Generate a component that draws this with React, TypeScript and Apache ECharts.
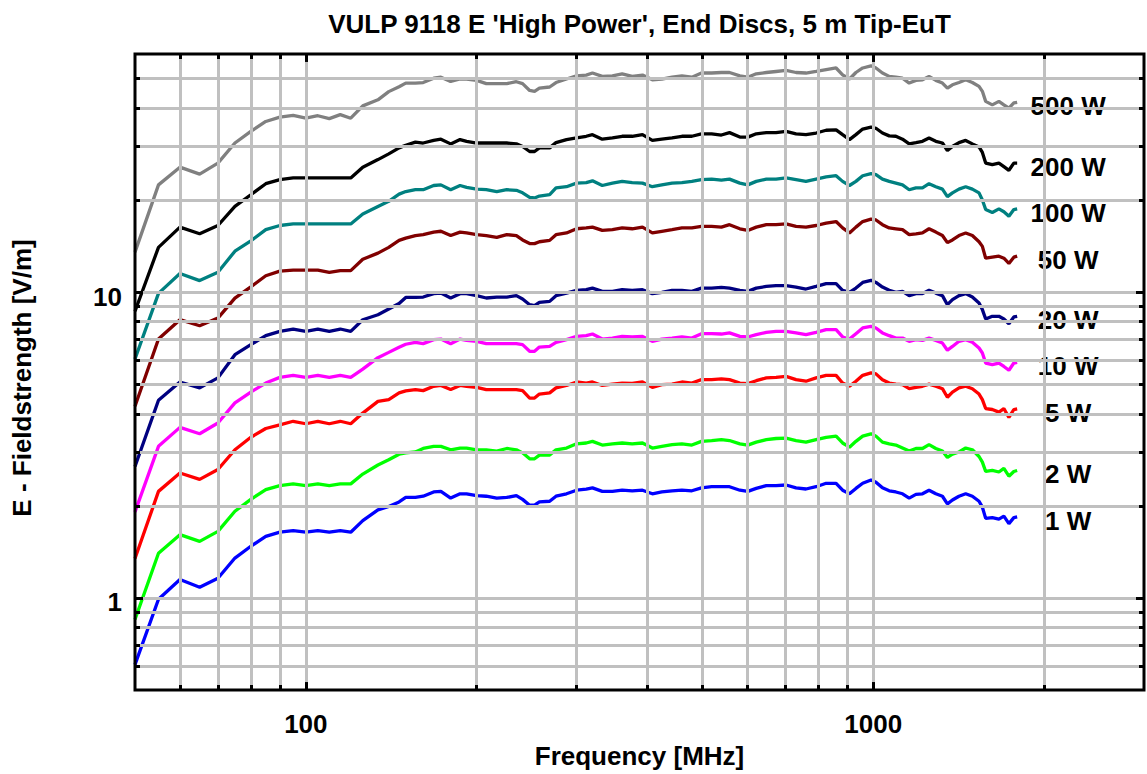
import React, { useEffect, useRef } from 'react';
import * as echarts from 'echarts';

// ---------- data ----------
const freqMHz = [
  50, 55, 60, 65, 70, 75, 80, 85, 90, 95, 100, 105, 110, 115, 120, 126, 134, 140, 146, 150, 156,
  161, 168, 173, 180, 187, 192, 200, 208, 217, 226, 235, 241, 248, 253, 258, 269, 276, 288, 300, 312,
  320, 333, 347, 361, 376, 392, 408, 424, 442, 460, 479, 498, 519, 540,
  558, 582, 601, 622, 648, 674, 702, 731, 761, 793, 826, 860, 883, 908, 932, 958, 991, 1011, 1038, 1067,
  1096, 1126, 1157, 1189, 1221, 1254, 1289, 1324, 1351, 1379, 1416, 1455, 1495, 1536, 1557, 1578, 1621,
  1665, 1699, 1734, 1769, 1793,
];

const e500W = [
  13.5, 22.4, 25.6, 24.3, 26.4, 30.7, 33.5, 36.1, 37.3, 37.8, 37.0, 37.7, 36.9, 38.0, 37.0, 40.6, 42.5, 45.2, 46.9, 48.2, 48.2,
  48.4, 50.0, 50.4, 48.8, 49.7, 49.7, 49.2, 48.0, 48.0, 48.0, 48.7, 48.0, 45.6, 45.3, 46.4, 46.8, 48.4, 49.7, 50.9, 51.2,
  52.0, 50.7, 50.9, 51.7, 50.7, 51.2, 49.4, 49.7, 50.4, 50.9, 50.4, 52.0, 52.0, 52.2,
  52.2, 50.9, 50.4, 51.7, 52.2, 52.6, 53.0, 52.2, 52.0, 52.6, 53.3, 54.0, 51.3, 49.7, 52.2, 54.0, 54.9, 54.0, 52.0, 50.7,
  50.4, 50.0, 48.2, 49.2, 49.4, 50.7, 49.2, 48.2, 46.4, 47.6, 48.4, 49.4, 48.4, 47.0, 45.3, 42.0, 40.9, 42.0, 40.9, 39.9,
  41.5, 41.7,
];
const e200W = [
  8.65, 14.0, 16.3, 15.5, 16.5, 19.05, 20.8, 22.6, 23.3, 23.6, 23.6, 23.6, 23.6, 23.6, 23.6, 25.6, 27.1, 28.3, 29.6, 30.2, 30.9,
  30.7, 31.3, 31.6, 30.5, 31.5, 31.1, 30.7, 30.7, 30.7, 30.7, 30.5, 29.9, 28.8, 28.8, 29.6, 29.6, 30.8, 31.5, 31.9, 32.3,
  32.7, 31.6, 31.9, 32.3, 32.3, 32.7, 31.3, 31.6, 31.9, 32.3, 32.3, 32.9, 32.9, 32.6,
  33.2, 32.1, 32.1, 32.9, 33.2, 33.2, 33.5, 32.9, 32.7, 33.1, 33.8, 33.9, 32.7, 31.5, 32.7, 34.1, 34.6, 34.3, 33.1, 32.4,
  32.3, 31.6, 30.5, 30.8, 31.1, 31.9, 31.1, 30.7, 29.0, 29.9, 30.8, 31.3, 30.5, 29.8, 28.6, 26.4, 26.1, 26.4, 25.7, 25.0,
  26.4, 26.4,
];
const e100W = [
  6.04, 9.9, 11.5, 10.9, 11.6, 13.6, 14.7, 16.0, 16.5, 16.7, 16.7, 16.7, 16.7, 16.7, 16.7, 18.0, 19.05, 19.8, 20.9, 21.3, 21.6,
  21.6, 22.3, 22.4, 21.6, 22.3, 22.0, 21.7, 21.6, 21.3, 21.6, 21.5, 21.1, 20.4, 20.3, 20.6, 20.8, 21.9, 22.1, 22.7, 22.8,
  23.1, 22.3, 22.7, 23.0, 22.8, 22.7, 22.1, 22.4, 22.7, 22.8, 23.0, 23.3, 23.4, 23.2,
  23.4, 22.7, 22.4, 23.0, 23.4, 23.4, 23.6, 23.3, 23.0, 23.4, 23.8, 24.0, 23.0, 22.3, 23.0, 24.0, 24.4, 24.2, 23.4, 23.0,
  22.7, 22.4, 21.6, 21.9, 21.9, 22.6, 22.1, 21.7, 20.5, 21.1, 21.7, 22.1, 21.7, 21.1, 20.0, 18.6, 18.2, 18.7, 18.3, 17.7,
  18.6, 18.7,
];
const e50W = [
  4.23, 7.02, 8.12, 7.76, 8.22, 9.55, 10.4, 11.3, 11.7, 11.8, 11.8, 11.8, 11.6, 11.75, 11.75, 12.8, 13.4, 14.0, 14.75, 15.0, 15.3,
  15.4, 15.7, 15.8, 15.3, 15.7, 15.6, 15.4, 15.3, 15.1, 15.4, 15.3, 14.8, 14.4, 14.4, 14.6, 14.75, 15.4, 15.6, 16.1, 16.2,
  16.3, 15.9, 16.0, 16.2, 16.1, 16.3, 15.6, 15.8, 16.0, 16.2, 16.2, 16.4, 16.4, 16.3,
  16.6, 16.1, 15.9, 16.3, 16.6, 16.6, 16.7, 16.4, 16.3, 16.5, 16.8, 17.0, 16.2, 15.6, 16.3, 17.0, 17.3, 17.2, 16.6, 16.2,
  16.1, 16.0, 15.4, 15.5, 15.6, 16.1, 15.7, 15.3, 14.5, 14.8, 15.3, 15.6, 15.3, 14.6, 14.1, 12.9, 13.0, 13.1, 12.9, 12.4,
  13.0, 13.1,
];
const e20W = [
  2.69, 4.43, 5.08, 4.86, 5.24, 6.24, 6.73, 7.2, 7.44, 7.57, 7.44, 7.57, 7.44, 7.57, 7.44, 8.12, 8.43, 8.8, 9.17, 9.6, 9.6,
  9.63, 9.88, 9.92, 9.56, 9.88, 9.88, 9.73, 9.56, 9.63, 9.63, 9.73, 9.49, 9.09, 9.02, 9.25, 9.32, 9.73, 9.92, 10.13, 10.18,
  10.3, 10.05, 10.05, 10.18, 10.13, 10.18, 9.88, 9.98, 10.13, 10.13, 10.05, 10.3, 10.3, 10.36,
  10.3, 10.13, 10.05, 10.3, 10.43, 10.49, 10.49, 10.38, 10.23, 10.43, 10.65, 10.65, 10.13, 9.97, 10.3, 10.75, 10.92, 10.75, 10.38, 10.13,
  9.97, 10.05, 9.73, 9.88, 9.88, 10.13, 9.92, 9.73, 9.09, 9.44, 9.73, 9.88, 9.63, 9.21, 8.76, 8.16, 8.33, 8.33, 8.16, 7.88,
  8.29, 8.33,
];
const e10W = [
  1.91, 3.13, 3.61, 3.44, 3.73, 4.34, 4.71, 5.04, 5.26, 5.34, 5.26, 5.34, 5.26, 5.34, 5.26, 5.6, 6.1, 6.35, 6.6, 6.75, 6.85,
  6.78, 6.99, 7.02, 6.78, 7.02, 6.95, 6.9, 6.78, 6.78, 6.78, 6.78, 6.73, 6.4, 6.4, 6.61, 6.64, 6.85, 6.99, 7.16, 7.2,
  7.29, 7.02, 7.07, 7.16, 7.13, 7.16, 6.9, 7.02, 7.07, 7.13, 7.07, 7.31, 7.31, 7.29,
  7.35, 7.16, 7.13, 7.26, 7.38, 7.44, 7.44, 7.35, 7.26, 7.38, 7.53, 7.53, 7.13, 7.02, 7.31, 7.63, 7.72, 7.63, 7.35, 7.2,
  7.07, 7.07, 6.9, 6.99, 6.95, 7.07, 6.95, 6.81, 6.45, 6.64, 6.9, 6.99, 6.85, 6.56, 6.32, 5.86, 5.79, 5.86, 5.71, 5.55,
  5.86, 5.89,
];
const e5W = [
  1.345, 2.23, 2.56, 2.44, 2.63, 3.05, 3.35, 3.58, 3.68, 3.78, 3.71, 3.78, 3.71, 3.78, 3.71, 4.02, 4.39, 4.45, 4.68, 4.75, 4.8,
  4.76, 4.92, 4.95, 4.8, 4.95, 4.92, 4.88, 4.8, 4.8, 4.8, 4.8, 4.76, 4.5, 4.5, 4.64, 4.68, 4.86, 4.95, 5.08, 5.04,
  5.08, 4.95, 5.0, 5.04, 5.03, 5.08, 4.88, 4.98, 5.0, 5.08, 5.04, 5.17, 5.17, 5.2,
  5.17, 5.04, 5.02, 5.13, 5.24, 5.26, 5.3, 5.17, 5.11, 5.24, 5.34, 5.34, 5.04, 4.92, 5.11, 5.34, 5.44, 5.4, 5.17, 5.04,
  5.0, 4.98, 4.83, 4.88, 4.92, 5.0, 4.92, 4.83, 4.53, 4.71, 4.86, 4.92, 4.83, 4.64, 4.45, 4.16, 4.13, 4.05, 4.16, 3.89,
  4.13, 4.15,
];
const e2W = [
  0.85, 1.4, 1.61, 1.53, 1.65, 1.92, 2.1, 2.26, 2.33, 2.36, 2.33, 2.36, 2.33, 2.36, 2.36, 2.54, 2.72, 2.83, 2.95, 2.98, 3.0,
  3.08, 3.13, 3.13, 3.05, 3.09, 3.09, 3.05, 3.05, 3.02, 3.08, 3.05, 2.98, 2.85, 2.85, 2.93, 2.93, 3.05, 3.09, 3.19, 3.21,
  3.25, 3.16, 3.19, 3.21, 3.19, 3.21, 3.09, 3.13, 3.17, 3.19, 3.16, 3.25, 3.27, 3.29,
  3.27, 3.19, 3.16, 3.23, 3.29, 3.32, 3.33, 3.27, 3.23, 3.29, 3.35, 3.38, 3.21, 3.11, 3.25, 3.38, 3.44, 3.38, 3.23, 3.19,
  3.16, 3.09, 3.02, 3.08, 3.08, 3.17, 3.08, 3.02, 2.88, 2.95, 3.0, 3.09, 3.05, 2.9, 2.78, 2.59, 2.61, 2.58, 2.65, 2.5,
  2.59, 2.61,
];
const e1W = [
  0.605, 0.99, 1.148, 1.084, 1.16, 1.35, 1.475, 1.59, 1.64, 1.66, 1.64, 1.66, 1.64, 1.66, 1.64, 1.79, 1.94, 1.99, 2.06, 2.13, 2.13,
  2.15, 2.22, 2.23, 2.12, 2.19, 2.19, 2.16, 2.15, 2.12, 2.13, 2.16, 2.1, 2.01, 2.01, 2.06, 2.07, 2.15, 2.19, 2.25, 2.27,
  2.29, 2.23, 2.23, 2.25, 2.24, 2.25, 2.19, 2.22, 2.24, 2.25, 2.24, 2.29, 2.31, 2.31,
  2.31, 2.25, 2.23, 2.28, 2.33, 2.33, 2.34, 2.29, 2.27, 2.31, 2.37, 2.37, 2.25, 2.19, 2.28, 2.37, 2.43, 2.39, 2.29, 2.24,
  2.22, 2.19, 2.12, 2.18, 2.19, 2.25, 2.19, 2.15, 2.03, 2.09, 2.15, 2.19, 2.15, 2.07, 1.98, 1.82, 1.83, 1.81, 1.85, 1.75,
  1.83, 1.84,
];

const seriesNames = ['500 W', '200 W', '100 W', '50 W', '20 W', '10 W', '5 W', '2 W', '1 W'];
const seriesValues = [e500W, e200W, e100W, e50W, e20W, e10W, e5W, e2W, e1W];
const seriesColors = ['#808080', '#000000', '#008080', '#800000', '#000080', '#ff00ff', '#ff0000', '#00ff00', '#0000ff'];

const xMin = 50;
const xMax = 3000;
const yMin = 0.5;
const yMax = 60;
const xTickLabels = [100, 1000];
const yTickLabels = [1, 10];
const xGridValues = [60, 70, 80, 90, 100, 200, 300, 400, 500, 600, 700, 800, 900, 1000, 2000];
const yGridValues = [0.6, 0.7, 0.8, 0.9, 1, 2, 3, 4, 5, 6, 7, 8, 9, 10, 20, 30, 40, 50];

const titleText = "VULP 9118 E 'High Power', End Discs, 5 m Tip-EuT";
const xName = 'Frequency [MHz]';
const yName = 'E - Fieldstrength [V/m]';

// ---------- layout ----------
const W = 1147;
const H = 774;
const GRID = { left: 135, right: 3, top: 54, bottom: 81 };
const FONT = '"Liberation Sans", Arial, Helvetica, sans-serif';

export default function App() {
  const ref = useRef<HTMLDivElement>(null);

  useEffect(() => {
    if (!ref.current) return;
    const chart = echarts.init(ref.current, undefined, { renderer: 'svg' });

    const plotW = W - GRID.left - GRID.right;
    const plotH = H - GRID.top - GRID.bottom;
    const pxPerDecX = plotW / Math.log10(xMax / xMin);
    const pxPerDecY = plotH / Math.log10(yMax / yMin);
    const fx = (px: number) => Math.pow(10, px / pxPerDecX);
    const fy = (px: number) => Math.pow(10, px / pxPerDecY);

    const isMatch = (v: number, arr: number[]) => arr.some((a) => Math.abs(v - a) / a < 1e-6);

    const gridLines: any[] = [
      ...xGridValues.map((v) => ({ xAxis: v })),
      ...yGridValues.map((v) => ({ yAxis: v })),
    ];

    const ticks: any[] = [];
    xGridValues.forEach((v) => {
      const len = isMatch(v, xTickLabels) ? 8 : 5;
      ticks.push([{ coord: [v, yMin] }, { coord: [v, yMin * fy(len)] }]);
      ticks.push([{ coord: [v, yMax] }, { coord: [v, yMax / fy(len)] }]);
    });
    yGridValues.forEach((v) => {
      const len = isMatch(v, yTickLabels) ? 8 : 5;
      ticks.push([{ coord: [xMin, v] }, { coord: [xMin * fx(len), v] }]);
      ticks.push([{ coord: [xMax, v] }, { coord: [xMax / fx(len), v] }]);
    });

    const dataSeries = seriesNames.map((name, i) => ({
      name,
      type: 'line',
      data: freqMHz.map((f, k) => [f, seriesValues[i][k]]).filter((p) => p[1] != null),
      showSymbol: false,
      symbol: 'none',
      z: 3,
      lineStyle: { color: seriesColors[i], width: 3.3 },
      itemStyle: { color: seriesColors[i] },
      endLabel: {
        show: true,
        formatter: name,
        color: '#000',
        fontSize: 26,
        fontWeight: 'bold',
        fontFamily: FONT,
        align: 'center',
        verticalAlign: 'top',
        lineHeight: 8,
        distance: 51,
      },
    }));

    const option: any = {
      animation: false,
      backgroundColor: '#fff',
      title: {
        text: titleText,
        left: GRID.left + plotW / 2,
        textAlign: 'center',
        top: 11,
        padding: 0,
        textStyle: { fontSize: 26, fontWeight: 'bold', color: '#000', fontFamily: FONT },
      },
      grid: {
        ...GRID,
        show: true,
        z: 10,
        backgroundColor: 'transparent',
        borderColor: '#000',
        borderWidth: 3,
      },
      xAxis: {
        type: 'log',
        logBase: 10,
        min: xMin,
        max: xMax,
        name: xName,
        nameLocation: 'middle',
        nameGap: 53,
        nameTextStyle: { fontSize: 26, fontWeight: 'bold', color: '#000', fontFamily: FONT },
        axisLine: { show: false },
        axisTick: { show: false },
        splitLine: { show: false },
        axisLabel: {
          margin: 21,
          fontSize: 26,
          fontWeight: 'bold',
          color: '#000',
          fontFamily: FONT,
          formatter: (v: number) => (isMatch(v, xTickLabels) ? String(Math.round(v)) : ''),
        },
      },
      yAxis: {
        type: 'log',
        logBase: 10,
        min: yMin,
        max: yMax,
        name: yName,
        nameLocation: 'middle',
        nameGap: 100,
        nameRotate: 90,
        nameTextStyle: {
          fontSize: 26,
          fontWeight: 'bold',
          color: '#000',
          fontFamily: FONT,
          padding: [0, 12, 0, 0],
        },
        axisLine: { show: false },
        axisTick: { show: false },
        splitLine: { show: false },
        axisLabel: {
          margin: 13,
          fontSize: 26,
          fontWeight: 'bold',
          color: '#000',
          fontFamily: FONT,
          verticalAlign: 'top',
          lineHeight: 9,
          formatter: (v: number) => (isMatch(v, yTickLabels) ? String(Math.round(v)) : ''),
        },
      },
      series: [
        {
          name: 'grid',
          type: 'line',
          data: [],
          z: 1,
          silent: true,
          markLine: {
            silent: true,
            symbol: ['none', 'none'],
            label: { show: false },
            lineStyle: { color: '#c0c0c0', width: 3, type: 'solid' },
            data: gridLines,
          },
        },
        {
          name: 'ticks',
          type: 'line',
          data: [],
          z: 11,
          silent: true,
          markLine: {
            silent: true,
            symbol: ['none', 'none'],
            label: { show: false },
            lineStyle: { color: '#000', width: 3, type: 'solid' },
            data: ticks,
          },
        },
        ...dataSeries,
      ],
    };

    chart.setOption(option);
    return () => chart.dispose();
  }, []);

  return (
    <div
      ref={ref}
      style={{ position: 'absolute', left: 0, top: 0, width: W, height: H, background: '#fff' }}
    />
  );
}
